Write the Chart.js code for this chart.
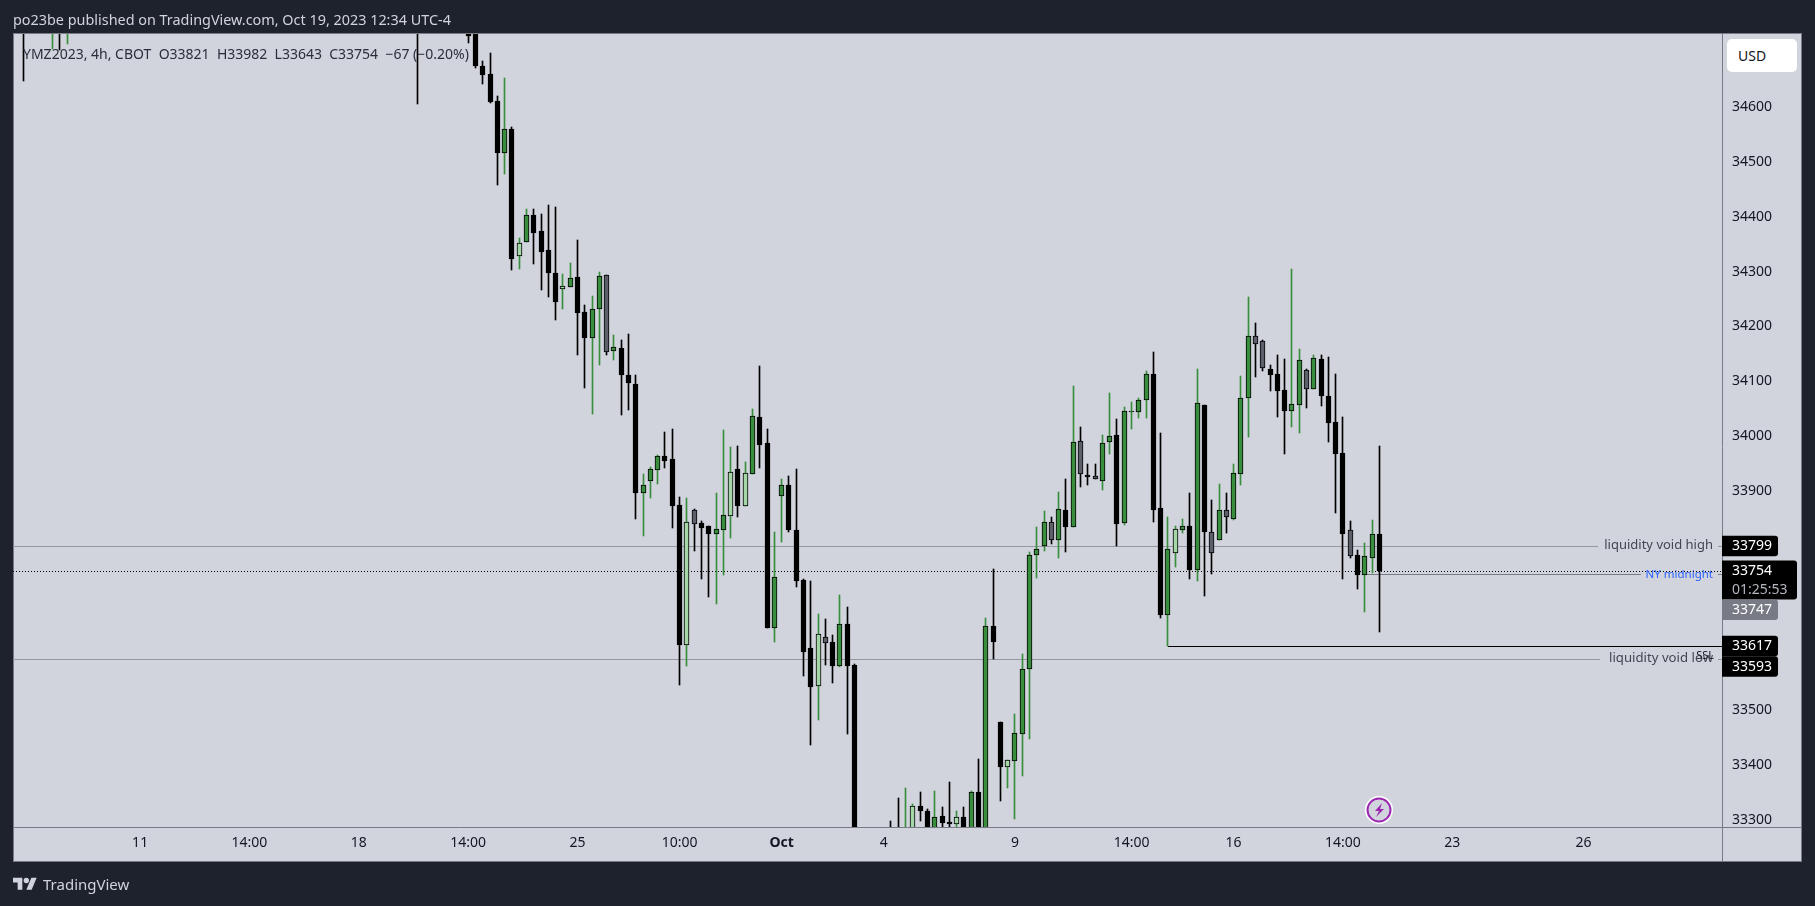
<!DOCTYPE html>
<html>
<head>
<meta charset="utf-8">
<title>YMZ2023 4h</title>
<script src="https://cdn.jsdelivr.net/npm/chart.js@4/dist/chart.umd.min.js"></script>
<style>
    html, body { margin: 0; padding: 0; width: 1815px; height: 906px; overflow: hidden; background: #1e222d; }
    body { position: relative; font-family: "Noto Sans", sans-serif; }
    canvas { position: absolute; left: 0; top: 0; }
    .txt { position: absolute; white-space: pre; }
    #title { left: 13px; top: 10px; font-size: 14.4px; line-height: 20px; color: #d1d4dc; }
    #legend { left: 23px; top: 44px; width: 449px; overflow: hidden; font-size: 14px; line-height: 20px; color: #2a2e39; }
    #usd { left: 1727px; top: 39px; width: 70px; height: 33px; border-radius: 5px; background: #fff; font-size: 14px; line-height: 33px; color: #131722; text-indent: 11px; }
    #brand { left: 43px; top: 874px; font-size: 15px; line-height: 20px; color: #d1d4dc; }
    #logo { position: absolute; left: 13px; top: 875px; }
    #bolt { position: absolute; left: 1365px; top: 796px; }
</style>
</head>
<body>
<canvas id="chart" width="1815" height="906"></canvas>
<div class="txt" id="title">po23be published on TradingView.com, Oct 19, 2023 12:34 UTC-4</div>
<div class="txt" id="legend">YMZ2023, 4h, CBOT  O33821  H33982  L33643  C33754  −67 (−0.20%)</div>
<div class="txt" id="usd">USD</div>
<svg id="logo" width="24" height="19" viewBox="0 0 36 28"><path fill="#d1d4dc" d="M14 22H7V11H0V4h14v18zM28 22h-8l7.5-18h8L28 22z"/><circle fill="#d1d4dc" cx="20" cy="8" r="4"/></svg>
<div class="txt" id="brand">TradingView</div>
<svg id="bolt" width="28" height="28" viewBox="0 0 28 28"><circle cx="14" cy="14" r="14" fill="#fff"/><circle cx="14" cy="14" r="11.5" fill="#d1d4dc" stroke="#9c27b0" stroke-width="2"/><path fill="#9c27b0" d="M17 7l-7 8h4l-3 6 8-8h-4z"/></svg>

<script>
// bar number of each candle, bars above or below the visible window are left out
const barIndex = [0, 4, 5, 6, 54,
    61, 62, 63, 64, 65, 66, 67, 68, 69, 70,
    71, 72, 73, 74, 75, 76, 77, 78, 79, 80,
    81, 82, 83, 84, 85, 86, 87, 88, 89, 90,
    91, 92, 93, 94, 95, 96, 97, 98, 99, 100,
    101, 102, 103, 104, 105, 106, 107, 108, 109, 110,
    111, 112, 113, 114,
    119, 120, 121, 122, 123, 124, 125, 126, 127, 128, 129, 130,
    131, 132, 133, 134, 135, 136, 137, 138, 139, 140,
    141, 142, 143, 144, 145, 146, 147, 148, 149, 150,
    151, 152, 153, 154, 155, 156, 157, 158, 159, 160,
    161, 162, 163, 164, 165, 166, 167, 168, 169, 170,
    171, 172, 173, 174, 175, 176, 177, 178, 179, 180,
    181, 182, 183, 184, 185, 186]

const opens = [34770, 34740, 34790, 34745, 34800,
    34760, 34780, 34675, 34660, 34611, 34517, 34560, 34329, 34353, 34403,
    34374, 34339, 34297, 34269, 34272, 34290, 34226, 34179, 34232, 34293,
    34156, 34160, 34111, 34095, 33897, 33919, 33939, 33964, 33958, 33874,
    33620, 33865, 33841, 33836, 33822, 33829, 33855, 33940, 33873, 33930,
    34034, 33987, 33651, 33891, 33910, 33828, 33737, 33613, 33545, 33633,
    33624, 33581, 33657, 33582,
    33280, 33270, 33250, 33270, 33325, 33316, 33270, 33307, 33296, 33292, 33305, 33270,
    33351, 33270, 33653, 33478, 33397, 33408, 33457, 33575, 33784, 33800,
    33843, 33811, 33865, 33835, 33991, 33929, 33927, 33919, 33989, 34002,
    33842, 34044, 34044, 34065, 34113, 33868, 33673, 33786, 33829, 33836,
    33755, 34056, 33826, 33810, 33865, 33849, 33930, 34069, 34182, 34173,
    34122, 34113, 34084, 34046, 34057, 34120, 34086, 34141, 34073, 34025,
    33969, 33828, 33783, 33747, 33778, 33821]

const highs = [34900, 34800, 34810, 34800, 34830,
    34790, 34790, 34684, 34698, 34620, 34653, 34563, 34362, 34414, 34414,
    34405, 34421, 34418, 34295, 34315, 34358, 34239, 34255, 34299, 34294,
    34184, 34175, 34186, 34111, 33931, 33944, 33966, 34008, 34013, 33889,
    33887, 33867, 33845, 33836, 33896, 34011, 33980, 33982, 33953, 34049,
    34128, 34013, 33825, 33922, 33927, 33940, 33740, 33736, 33676, 33666,
    33637, 33710, 33688, 33585,
    33298, 33341, 33358, 33329, 33351, 33320, 33353, 33323, 33369, 33317, 33324, 33353,
    33411, 33668, 33758, 33479, 33410, 33493, 33603, 33789, 33834, 33863,
    33852, 33898, 33921, 34091, 34016, 33950, 33949, 34002, 34079, 34031,
    34053, 34062, 34069, 34119, 34153, 34006, 33853, 33836, 33849, 33896,
    34122, 34057, 33884, 33913, 33896, 33949, 34110, 34254, 34206, 34175,
    34130, 34147, 34141, 34305, 34159, 34122, 34147, 34147, 34144, 34113,
    34035, 33845, 33792, 33805, 33847, 33982]

const lows = [34648, 34706, 34704, 34714, 34606,
    34717, 34671, 34642, 34608, 34457, 34478, 34302, 34305, 34353, 34313,
    34267, 34254, 34212, 34232, 34271, 34148, 34088, 34041, 34130, 34148,
    34138, 34039, 34048, 33848, 33817, 33888, 33913, 33941, 33833, 33547,
    33581, 33791, 33740, 33707, 33694, 33747, 33815, 33853, 33873, 33930,
    33941, 33651, 33625, 33807, 33826, 33725, 33563, 33437, 33483, 33583,
    33549, 33579, 33456, 33250,
    33240, 33240, 33240, 33260, 33299, 33260, 33260, 33270, 33270, 33270, 33260, 33260,
    33260, 33260, 33594, 33335, 33359, 33301, 33381, 33447, 33742, 33791,
    33804, 33778, 33789, 33835, 33908, 33911, 33921, 33902, 33968, 33800,
    33837, 34013, 34033, 34033, 33844, 33669, 33617, 33762, 33823, 33740,
    33736, 33709, 33749, 33810, 33823, 33847, 33910, 33999, 34108, 34119,
    34083, 34035, 33968, 34017, 34006, 34052, 34086, 34055, 33990, 33860,
    33740, 33778, 33722, 33680, 33751, 33643]

const closes = [34745, 34780, 34750, 34790, 34750,
    34730, 34674, 34659, 34610, 34517, 34559, 34322, 34352, 34403, 34371,
    34336, 34298, 34245, 34274, 34289, 34225, 34179, 34231, 34292, 34154,
    34162, 34112, 34096, 33897, 33910, 33940, 33963, 33955, 33873, 33620,
    33843, 33840, 33833, 33822, 33830, 33856, 33934, 33873, 33932, 34036,
    33983, 33651, 33744, 33910, 33828, 33736, 33607, 33543, 33639, 33622,
    33580, 33657, 33581, 33270,
    33260, 33250, 33280, 33325, 33316, 33270, 33305, 33295, 33292, 33305, 33270, 33351,
    33270, 33653, 33625, 33397, 33409, 33458, 33575, 33784, 33794, 33843,
    33811, 33867, 33835, 33989, 33930, 33926, 33921, 33987, 34001, 33840,
    34045, 34046, 34065, 34113, 33866, 33673, 33794, 33830, 33836, 33755,
    34060, 33826, 33786, 33865, 33852, 33932, 34069, 34182, 34167, 34124,
    34112, 34083, 34046, 34058, 34138, 34086, 34142, 34074, 34024, 33968,
    33822, 33782, 33747, 33781, 33821, 33754]

// low volume candles, drawn paler in the reference
const paleBars = [68, 74, 80, 91, 92, 97, 99, 109, 110, 122, 128, 135, 141, 145, 147, 158, 163, 165, 169, 170, 176, 182]

// axes
const priceTicks = [33300, 33400, 33500, 33900, 34000, 34100, 34200, 34300, 34400, 34500, 34600]
const timeTicks = [16, 31, 46, 61, 76, 90, 104, 118, 136, 152, 166, 181, 196, 214]
const timeLabels = ['11', '14:00', '18', '14:00', '25', '10:00', 'Oct', '4', '9', '14:00', '16', '14:00', '23', '26']

// horizontal levels
const voidHigh = 33799
const voidLow = 33593
const lastPrice = 33754
const nyMidnight = 33747
const ssl = 33617
const nyStartBar = 184
const sslStartBar = 157
const countdown = '01:25:53'

const xMin = -1.44
const xMax = 233
const yMin = 33287.3
const yMax = 34733.1

const panel = '#d1d4dc'
const edge = '#787b86'

function isPale(bar) {
    return paleBars.includes(bar)
}

function bodyColor(i) {
    let up = closes[i] >= opens[i]
    if (isPale(barIndex[i])) {
        return up ? '#a5d6a7' : '#5d606b'
    }
    return up ? '#388e3c' : '#000000'
}

function levelLine(value, from, color, dash) {
    return {
        type: 'line',
        order: 3,
        data: [{ x: from, y: value }, { x: xMax, y: value }],
        borderColor: color,
        borderWidth: 1,
        borderDash: dash || [],
        pointRadius: 0,
        tension: 0,
        clip: 0
    }
}

// panel, frame and axis lines behind the chart
const framePlugin = {
    id: 'frame',
    beforeDraw(chart) {
        let ctx = chart.ctx
        let area = chart.chartArea
        ctx.save()
        ctx.fillStyle = panel
        ctx.fillRect(14, 34, 1788, 827)
        ctx.strokeStyle = edge
        ctx.lineWidth = 1
        ctx.strokeRect(13.5, 33.5, 1788, 828)
        ctx.beginPath()
        ctx.moveTo(area.right + 0.5, 34)
        ctx.lineTo(area.right + 0.5, 861)
        ctx.moveTo(14, area.bottom + 0.5)
        ctx.lineTo(1801, area.bottom + 0.5)
        ctx.stroke()
        ctx.restore()
    }
}

// keep candles and lines on whole pixels, like the original
const snapPlugin = {
    id: 'snap',
    afterDatasetsUpdate(chart) {
        chart.data.datasets.forEach((ds, d) => {
            chart.getDatasetMeta(d).data.forEach(el => {
                if (ds.type === 'line') {
                    el.y = Math.floor(el.y) + 0.5
                } else {
                    el.x = Math.floor(el.x) + 0.5
                    el.y = Math.round(el.y)
                    el.base = Math.round(el.base)
                    if (el.y === el.base) {
                        el.base = el.y + 1
                    }
                }
            })
        })
    }
}

// line captions and the price tags on the right axis
const tagPlugin = {
    id: 'tags',
    afterDraw(chart) {
        let ctx = chart.ctx
        let yScale = chart.scales.y
        let right = chart.chartArea.right
        ctx.save()
        ctx.textBaseline = 'middle'

        let captions = [
            { text: 'liquidity void high', value: voidHigh, from: 1598, color: '#434651', size: 13, dy: -1 },
            { text: 'NY midnight', value: nyMidnight, from: 1641, color: '#2962ff', size: 11.5, dy: 0 },
            { text: 'liquidity void low', value: voidLow, from: 1600, color: '#434651', size: 13.2, dy: -1 }
        ]
        captions.forEach(c => {
            let y = yScale.getPixelForValue(c.value)
            ctx.fillStyle = panel
            ctx.fillRect(c.from, y - 2, 1718 - c.from, 4)
            ctx.fillStyle = c.color
            ctx.font = c.size + 'px "Noto Sans"'
            ctx.textAlign = 'right'
            ctx.fillText(c.text, 1713, y + c.dy)
        })
        ctx.fillStyle = '#131722'
        ctx.font = '11px "Noto Sans"'
        ctx.fillText('SSL', 1714, yScale.getPixelForValue(ssl) + 10)

        let tags = [
            { text: String(voidHigh), value: voidHigh, bg: '#000000', w: 56 },
            { text: String(lastPrice), sub: countdown, value: lastPrice, bg: '#000000', w: 75 },
            { text: String(nyMidnight), value: nyMidnight, bg: edge, w: 56 },
            { text: String(ssl), value: ssl, bg: '#000000', w: 56 },
            { text: String(voidLow), value: voidLow, bg: '#000000', w: 56 }
        ]
        let bottom = 0
        ctx.textAlign = 'left'
        ctx.font = '14px "Noto Sans"'
        tags.forEach(t => {
            let top = Math.max(yScale.getPixelForValue(t.value) - 10.5, bottom)
            let h = t.sub ? 39 : 20.5
            ctx.fillStyle = t.bg
            ctx.beginPath()
            ctx.roundRect(right, top, t.w, h, [0, 3, 3, 0])
            ctx.fill()
            ctx.fillStyle = '#ffffff'
            ctx.fillText(t.text, right + 10, top + 10.5)
            if (t.sub) {
                ctx.fillStyle = '#b2b5be'
                ctx.fillText(t.sub, right + 10, top + 29)
            }
            bottom = top + h
        })
        ctx.restore()
    }
}

const chart = new Chart(document.getElementById('chart'), {
    type: 'bar',
    data: {
        datasets: [
            levelLine(voidHigh, xMin, '#9598a1'),
            levelLine(voidLow, xMin, '#9598a1'),
            levelLine(lastPrice, xMin, '#000000', [1, 2]),
            levelLine(nyMidnight, nyStartBar, edge),
            levelLine(ssl, sslStartBar, '#000000'),
            {
                // wicks
                order: 2,
                data: barIndex.map((x, i) => ({ x: x, y: [lows[i], highs[i]] })),
                backgroundColor: barIndex.map((x, i) => closes[i] >= opens[i] ? '#388e3c' : '#000000'),
                barThickness: 1,
                borderWidth: 0,
                grouped: false,
                clip: 0
            },
            {
                // bodies
                order: 1,
                data: barIndex.map((x, i) => ({ x: x, y: [opens[i], closes[i]] })),
                backgroundColor: barIndex.map((x, i) => bodyColor(i)),
                borderColor: '#000000',
                borderWidth: 1,
                borderSkipped: false,
                barThickness: 5,
                grouped: false,
                clip: 0
            }
        ]
    },
    options: {
        responsive: false,
        animation: false,
        devicePixelRatio: 1,
        layout: { padding: { left: 13, top: 34, right: 13, bottom: 45 } },
        plugins: { legend: { display: false }, tooltip: { enabled: false } },
        scales: {
            x: {
                type: 'linear',
                min: xMin,
                max: xMax,
                offset: false,
                grid: { display: false, drawTicks: false },
                border: { display: false },
                afterFit: s => { s.height = 34 },
                afterBuildTicks: s => { s.ticks = timeTicks.map(v => ({ value: v })) },
                ticks: {
                    autoSkip: false,
                    maxRotation: 0,
                    padding: 8,
                    color: '#131722',
                    font: c => ({
                        family: '"Noto Sans"',
                        size: 14,
                        weight: c.tick && timeLabels[timeTicks.indexOf(c.tick.value)] === 'Oct' ? 'bold' : 'normal'
                    }),
                    callback: v => timeLabels[timeTicks.indexOf(v)]
                }
            },
            y: {
                position: 'right',
                min: yMin,
                max: yMax,
                grid: { display: false, drawTicks: false },
                border: { display: false },
                afterFit: s => { s.width = 80 },
                afterBuildTicks: s => { s.ticks = priceTicks.map(v => ({ value: v })) },
                ticks: {
                    padding: 10,
                    color: '#131722',
                    font: { family: '"Noto Sans"', size: 14 },
                    callback: v => String(v)
                }
            }
        }
    },
    plugins: [framePlugin, snapPlugin, tagPlugin]
})
</script>
</body>
</html>
